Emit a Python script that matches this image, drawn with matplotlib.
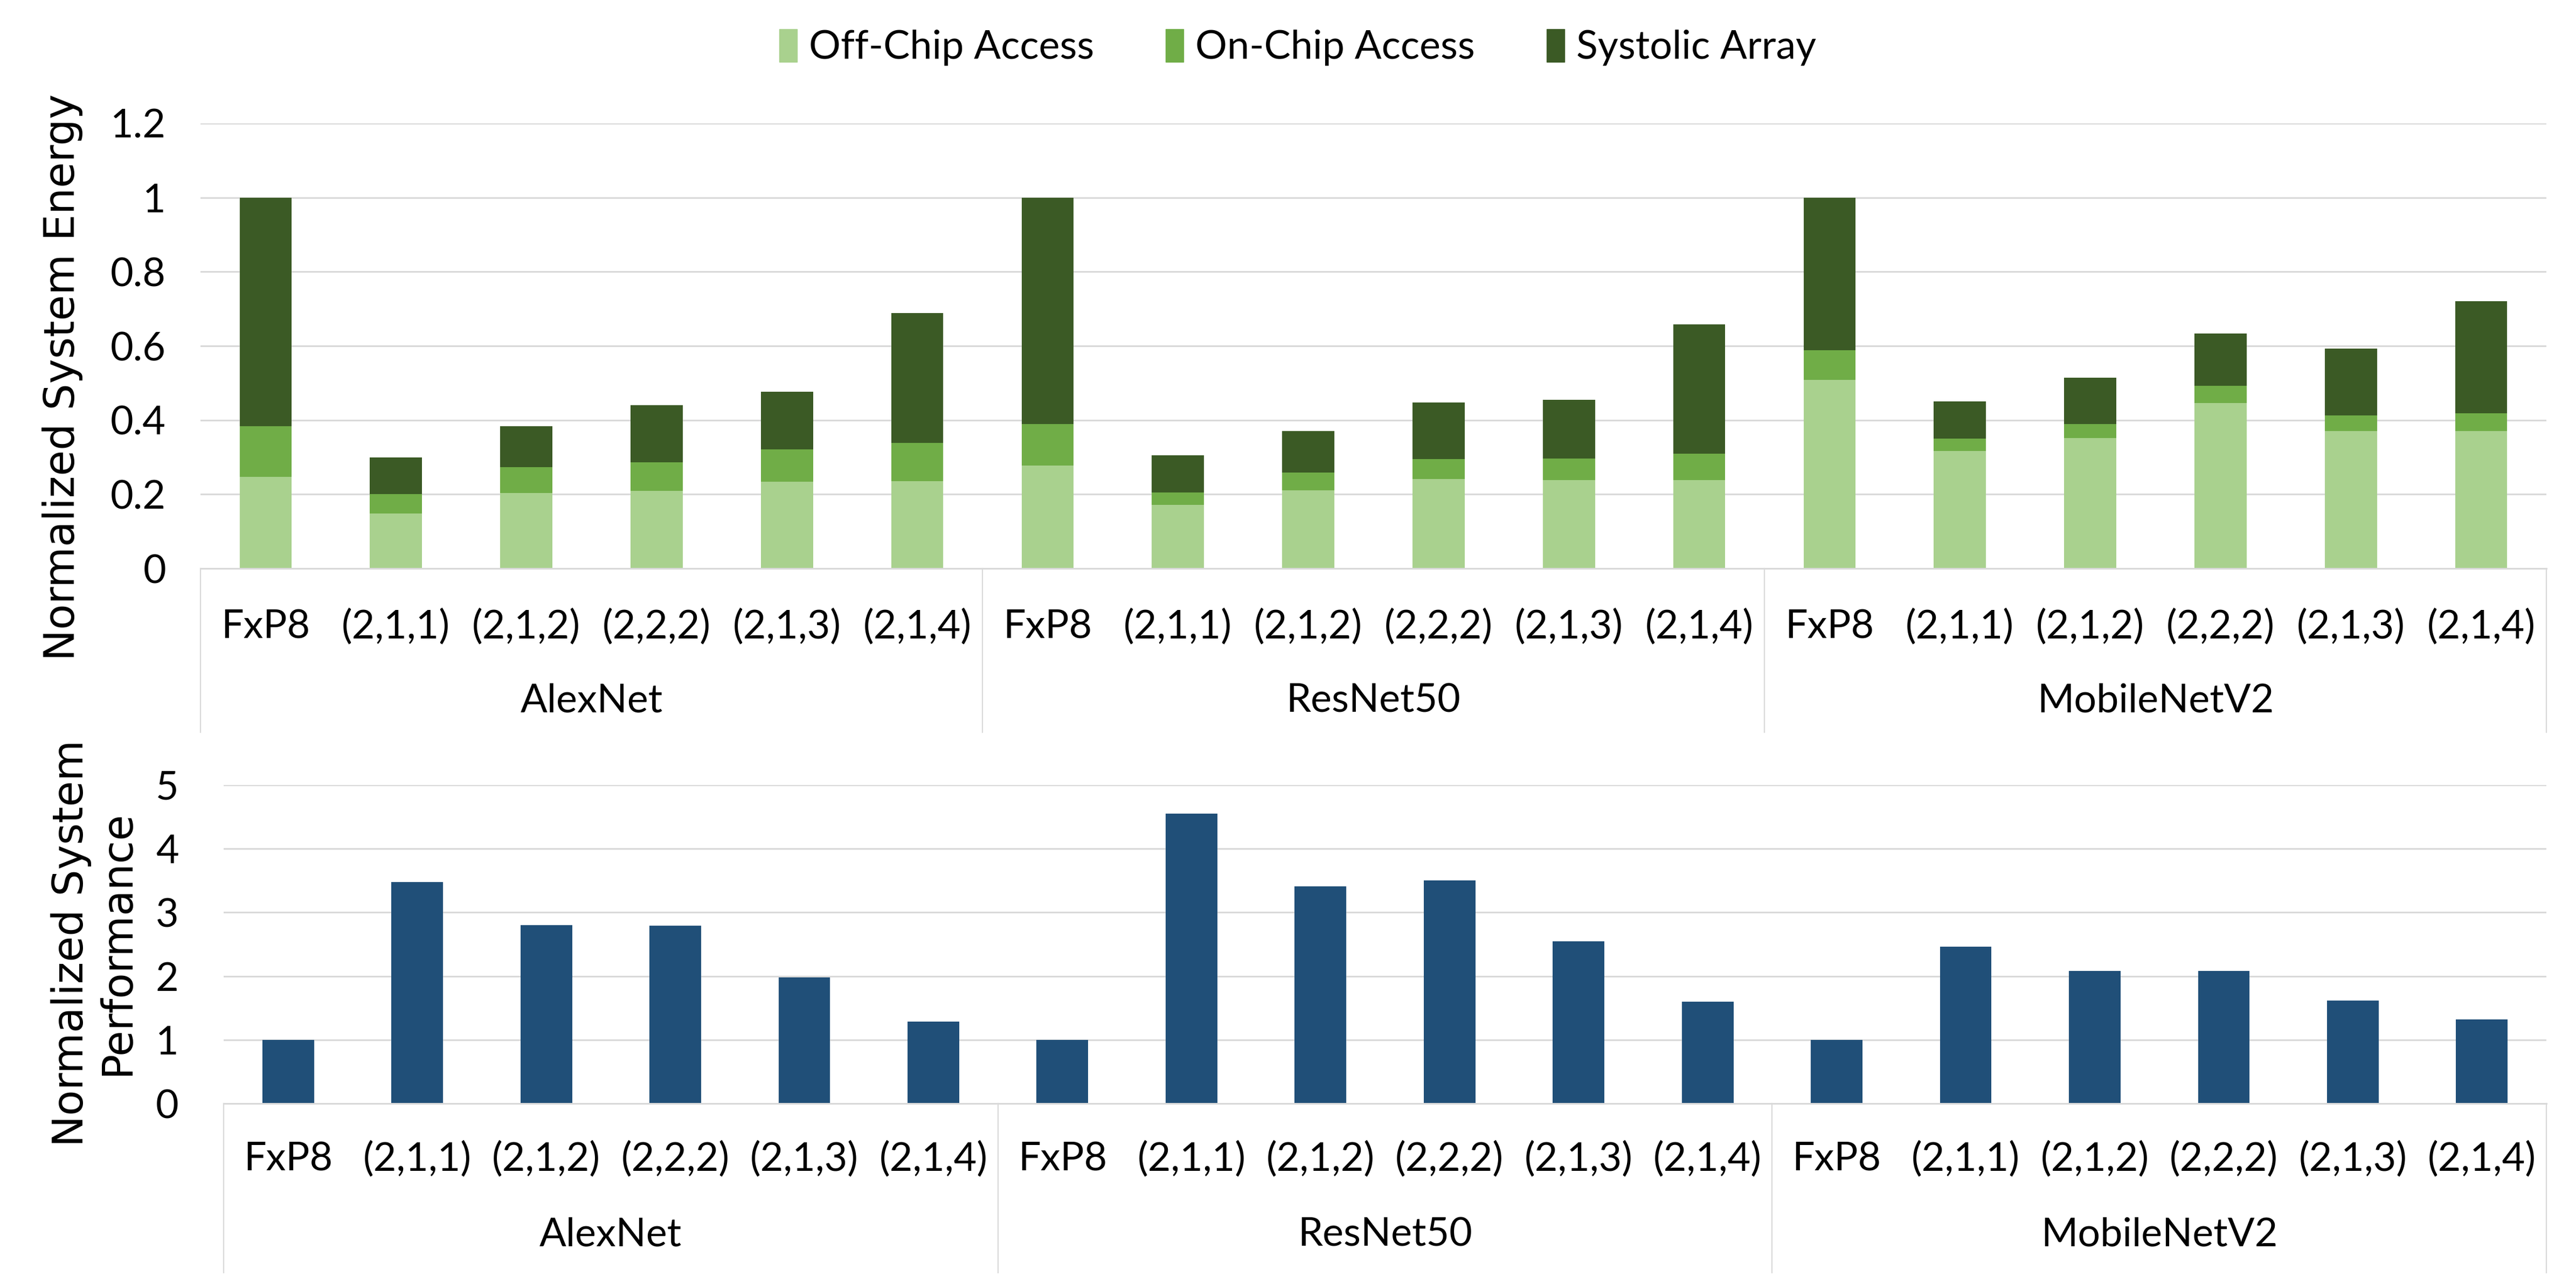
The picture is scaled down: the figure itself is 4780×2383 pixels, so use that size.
import matplotlib
matplotlib.use('Agg')
import matplotlib.pyplot as plt
import matplotlib.transforms as mtransforms
from matplotlib.patches import Patch
import numpy as np

networks = ['AlexNet', 'ResNet50', 'MobileNetV2']
configs = ['FxP8', '(2,1,1)', '(2,1,2)', '(2,2,2)', '(2,1,3)', '(2,1,4)']

# stacked energy: cumulative tops, split into segments below
off_chip = [0.247, 0.148, 0.203, 0.209, 0.234, 0.235,
            0.277, 0.171, 0.210, 0.241, 0.238, 0.238,
            0.509, 0.317, 0.351, 0.446, 0.370, 0.370]
on_chip_top = [0.384, 0.200, 0.273, 0.286, 0.321, 0.338,
               0.389, 0.205, 0.258, 0.295, 0.296, 0.310,
               0.589, 0.350, 0.389, 0.493, 0.412, 0.418]
total = [1.0, 0.299, 0.383, 0.440, 0.477, 0.689,
         1.0, 0.305, 0.370, 0.447, 0.455, 0.658,
         1.0, 0.451, 0.515, 0.634, 0.593, 0.721]
perf = [1.0, 3.48, 2.80, 2.79, 1.98, 1.29,
        1.0, 4.55, 3.41, 3.50, 2.55, 1.60,
        1.0, 2.46, 2.08, 2.08, 1.62, 1.32]

on_chip = np.array(on_chip_top) - np.array(off_chip)
systolic = np.array(total) - np.array(on_chip_top)

W, H = 4780, 2383
fig = plt.figure(figsize=(W / 100, H / 100), dpi=100)

TICK_FONT = ['Lato', 'DejaVu Sans']
FS = 53
GRID = '#d9d9d9'
c_off, c_on, c_sys = '#a9d18e', '#70ad47', '#3b5a25'
c_perf = '#204f78'

x = np.arange(len(configs) * len(networks))
labels = configs * len(networks)


def px_box(left, right, top, bottom):
    return [left / W, 1 - bottom / H, (right - left) / W, (bottom - top) / H]


def category_axis(ax, tick_px, group_px, box_px, ax_h_px):
    tr = mtransforms.blended_transform_factory(ax.transData, ax.transAxes)
    for xi, lab in zip(x, labels):
        ax.text(xi, -tick_px / ax_h_px, lab, transform=tr, ha='center', va='center',
                fontsize=FS, family=TICK_FONT)
    for g, name in enumerate(networks):
        ax.text(g * 6 + 2.5, -group_px / ax_h_px, name, transform=tr, ha='center',
                va='center', fontsize=FS, family=TICK_FONT)
    for b in [-0.5, 5.5, 11.5, 17.5]:
        ax.plot([b, b], [0, -box_px / ax_h_px], transform=tr, color=GRID, lw=1.6,
                clip_on=False)


def style(ax):
    for s in ['top', 'right', 'left']:
        ax.spines[s].set_visible(False)
    ax.spines['bottom'].set_color(GRID)
    ax.spines['bottom'].set_linewidth(2.2)
    ax.grid(axis='y', color=GRID, lw=2.2)
    ax.set_axisbelow(True)
    ax.set_xticks([])
    ax.tick_params(axis='y', length=0, labelsize=FS)
    for t in ax.get_yticklabels():
        t.set_family(TICK_FONT)
    ax.set_xlim(-0.5, 17.5)


# top: energy
ax1 = fig.add_axes(px_box(372, 4725, 229, 1055))
ax1.bar(x, off_chip, 0.4, color=c_off, label='Off-Chip Access')
ax1.bar(x, on_chip, 0.4, bottom=off_chip, color=c_on, label='On-Chip Access')
ax1.bar(x, systolic, 0.4, bottom=on_chip_top, color=c_sys, label='Systolic Array')
ax1.set_ylim(0, 1.2)
ax1.set_yticks([0, 0.2, 0.4, 0.6, 0.8, 1.0, 1.2])
ax1.set_yticklabels(['0', '0.2', '0.4', '0.6', '0.8', '1', '1.2'])
ax1.tick_params(axis='y', pad=46)
style(ax1)
category_axis(ax1, 109, 246, 304, 826)

# bottom: performance
ax2 = fig.add_axes(px_box(415, 4725, 1457, 2048))
ax2.bar(x, perf, 0.4, color=c_perf)
ax2.set_ylim(0, 5)
ax2.set_yticks([0, 1, 2, 3, 4, 5])
ax2.tick_params(axis='y', pad=60)
style(ax2)
category_axis(ax2, 104, 244, 314, 591)

fig.text(116 / W, 1 - 700 / H, 'Normalized System Energy', rotation=90,
         ha='center', va='center', fontsize=56)
fig.text(175 / W, 1 - 1750 / H, 'Normalized System\nPerformance', rotation=90,
         ha='center', va='center', fontsize=56, linespacing=1.15)

handles = [Patch(color=c_off), Patch(color=c_on), Patch(color=c_sys)]
fig.legend(handles, ['Off-Chip Access', 'On-Chip Access', 'Systolic Array'],
           loc='center', bbox_to_anchor=(2408 / W, 1 - 88 / H), ncol=3, frameon=False,
           prop={'family': TICK_FONT, 'size': FS}, handlelength=0.45, handleheight=0.9,
           handletextpad=0.3, columnspacing=1.8)

fig.savefig('out.png', dpi=100)
